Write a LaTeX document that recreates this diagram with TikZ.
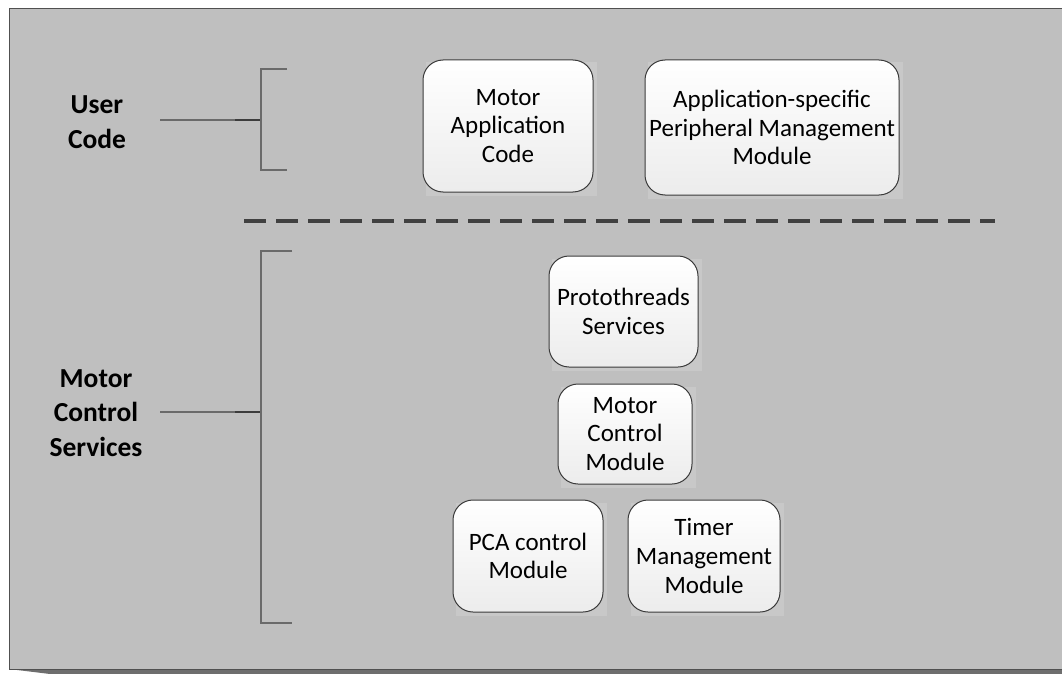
\documentclass[tikz,border=0pt]{standalone}
\usepackage{fontspec}
\setmainfont{Carlito}
\usetikzlibrary{calc}
\pgfdeclarelayer{bg}
\pgfdeclarelayer{mid}
\pgfsetlayers{bg,mid,main}
\definecolor{panelfill}{HTML}{BFBFBF}
\definecolor{panelline}{HTML}{505050}
\definecolor{shadowc}{HTML}{6E6E6E}
\definecolor{brk}{HTML}{6A6A6A}
\definecolor{brkdark}{HTML}{3C3C3C}
\definecolor{boxline}{HTML}{3A3A3A}
\definecolor{boxbot}{HTML}{ECECEC}
\definecolor{halo}{HTML}{C8C8C8}
\definecolor{dashc}{HTML}{404040}
\tikzset{
  modbox/.style={draw=boxline, line width=1pt, rounded corners=20pt,
    top color=white, bottom color=boxbot, align=center,
    font=\fontsize{25}{28.8}\selectfont, inner sep=0pt},
  grouplabel/.style={align=center, font=\fontsize{27.5}{34.5}\selectfont\bfseries},
  bracket/.style={draw=brk, line width=1.5pt},
  bracketdark/.style={draw=brkdark, line width=2pt},
  separator/.style={draw=dashc, line width=3.5pt, dash pattern=on 22pt off 10pt},
}
\begin{document}
\begin{tikzpicture}[x=1pt,y=-1pt]
\useasboundingbox (0,0) rectangle (1062,674);
\begin{pgfonlayer}{bg}
  \fill[white] (0,0) rectangle (1062,674);
  \fill[shadowc] (9,669) -- (1062,669) -- (1062,674) -- (50,674) -- cycle;
  \filldraw[fill=panelfill, draw=panelline, line width=1pt] (9,9) rectangle (1066,669);
\end{pgfonlayer}

% group labels
\node[grouplabel] (user) at (97,122) {User\\Code};
\node[grouplabel] (mcs) at (96,413) {Motor\\Control\\Services};

% brackets
\coordinate (u0) at (160,120);
\coordinate (ud) at (235,120);
\coordinate (uj) at (261,120);
\coordinate (ut) at (261,69);
\coordinate (utr) at (287,69);
\coordinate (ub) at (261,170);
\coordinate (ubr) at (287,170);
\draw[bracket] (u0) -- (ud);
\draw[bracketdark] (ud) -- (uj);
\draw[bracket] (utr) -- (ut) -- (ub) -- (ubr);

\coordinate (m0) at (160,412);
\coordinate (md) at (235,412);
\coordinate (mj) at (261,412);
\coordinate (mt) at (261,251);
\coordinate (mtr) at (292,251);
\coordinate (mb) at (261,623);
\coordinate (mbr) at (292,623);
\draw[bracket] (m0) -- (md);
\draw[bracketdark] (md) -- (mj);
\draw[bracket] (mtr) -- (mt) -- (mb) -- (mbr);

% separator
\coordinate (s0) at (244,221);
\coordinate (s1) at (995,221);
\draw[separator] (s0) -- (s1);

% modules
\node[modbox, minimum width=170pt, minimum height=132pt] (mac) at (508,126) {Motor\\Application\\Code};
\node[modbox, minimum width=254pt, minimum height=135pt] (apm) at (772,127.5) {Application-specific\\Peripheral Management\\Module};
\node[modbox, minimum width=149pt, minimum height=111pt] (pts) at (623.5,311.5) {Protothreads\\Services};
\node[modbox, minimum width=134pt, minimum height=100pt] (mcm) at (625,434) {Motor\\Control\\Module};
\node[modbox, minimum width=150pt, minimum height=112pt] (pca) at (528,556) {PCA control\\Module};
\node[modbox, minimum width=152pt, minimum height=112pt] (tmm) at (704,556) {Timer\\Management\\Module};

\begin{pgfonlayer}{mid}
  \foreach \n in {mac,apm,pts,mcm,pca,tmm}{
    \fill[halo] ($(\n.south west)+(3pt,-3pt)$) rectangle ($(\n.north east)+(3pt,-3pt)$);
  }
\end{pgfonlayer}
\end{tikzpicture}
\end{document}
